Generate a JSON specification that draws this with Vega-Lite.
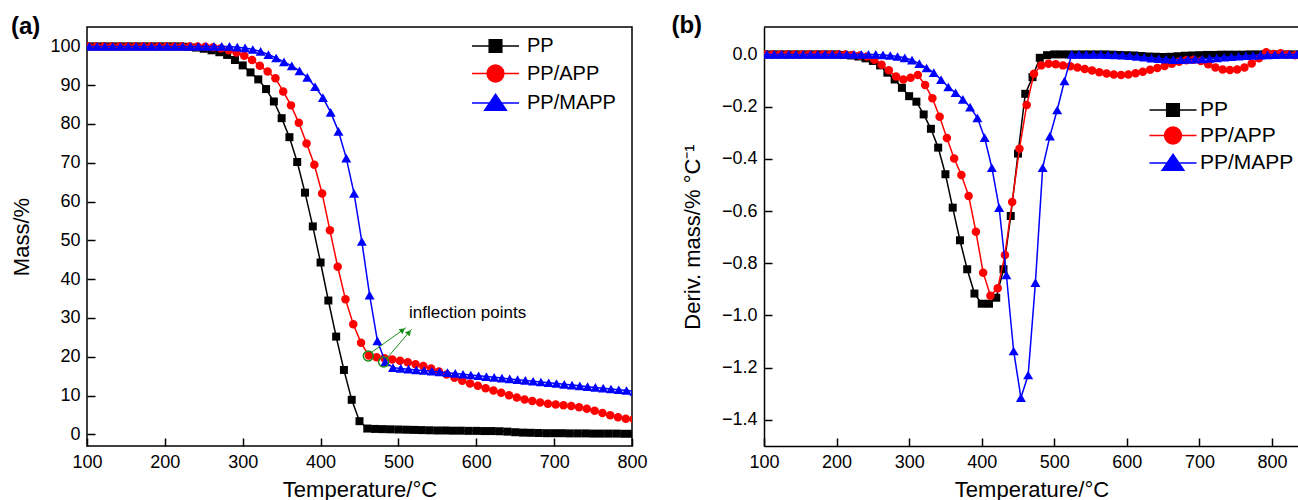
{
"$schema": "https://vega.github.io/schema/vega-lite/v6.json",
"padding": {"left": 10, "top": 14, "right": 0, "bottom": 0},
"background": "white",
"config": {
  "font": "Liberation Sans",
  "view": {"stroke": "black", "strokeWidth": 1.5},
  "axis": {"grid": false, "domain": false, "labelFont": "Liberation Sans", "labelFontSize": 18, "labelColor": "black", "titleFont": "Liberation Sans", "titleFontSize": 22, "titleFontWeight": "normal", "titleColor": "black", "tickColor": "black", "tickWidth": 1.5, "labelFlush": false, "labelOverlap": false},
  "legend": {"labelFont": "Liberation Sans", "labelColor": "black"},
  "title": {"font": "Liberation Sans", "color": "black"}
},
"datasets": {
"tga": [
{"series":"PP","T":100,"mass":100},{"series":"PP","T":110,"mass":100},{"series":"PP","T":120,"mass":100},{"series":"PP","T":130,"mass":100},{"series":"PP","T":140,"mass":100},{"series":"PP","T":150,"mass":100},{"series":"PP","T":160,"mass":100},{"series":"PP","T":170,"mass":100},{"series":"PP","T":180,"mass":100},{"series":"PP","T":190,"mass":100},{"series":"PP","T":200,"mass":100},{"series":"PP","T":210,"mass":100},{"series":"PP","T":220,"mass":100},{"series":"PP","T":230,"mass":99.9},{"series":"PP","T":240,"mass":99.7},{"series":"PP","T":250,"mass":99.4},{"series":"PP","T":260,"mass":99.0},{"series":"PP","T":270,"mass":98.5},{"series":"PP","T":280,"mass":97.8},{"series":"PP","T":290,"mass":96.5},{"series":"PP","T":300,"mass":95.1},{"series":"PP","T":310,"mass":93.3},{"series":"PP","T":320,"mass":91.5},{"series":"PP","T":330,"mass":89.0},{"series":"PP","T":340,"mass":85.8},{"series":"PP","T":350,"mass":81.5},{"series":"PP","T":360,"mass":76.6},{"series":"PP","T":370,"mass":70.2},{"series":"PP","T":380,"mass":62.3},{"series":"PP","T":390,"mass":53.6},{"series":"PP","T":400,"mass":44.3},{"series":"PP","T":410,"mass":34.5},{"series":"PP","T":420,"mass":25.2},{"series":"PP","T":430,"mass":16.6},{"series":"PP","T":440,"mass":8.9},{"series":"PP","T":450,"mass":3.4},{"series":"PP","T":460,"mass":1.5},{"series":"PP","T":470,"mass":1.4},{"series":"PP","T":480,"mass":1.35},{"series":"PP","T":490,"mass":1.3},{"series":"PP","T":500,"mass":1.25},{"series":"PP","T":510,"mass":1.2},{"series":"PP","T":520,"mass":1.15},{"series":"PP","T":530,"mass":1.1},{"series":"PP","T":540,"mass":1.05},{"series":"PP","T":550,"mass":1.0},{"series":"PP","T":560,"mass":1.0},{"series":"PP","T":570,"mass":0.95},{"series":"PP","T":580,"mass":0.95},{"series":"PP","T":590,"mass":0.9},{"series":"PP","T":600,"mass":0.9},{"series":"PP","T":610,"mass":0.85},{"series":"PP","T":620,"mass":0.85},{"series":"PP","T":630,"mass":0.8},{"series":"PP","T":640,"mass":0.7},{"series":"PP","T":650,"mass":0.55},{"series":"PP","T":660,"mass":0.45},{"series":"PP","T":670,"mass":0.4},{"series":"PP","T":680,"mass":0.35},{"series":"PP","T":690,"mass":0.3},{"series":"PP","T":700,"mass":0.3},{"series":"PP","T":710,"mass":0.3},{"series":"PP","T":720,"mass":0.25},{"series":"PP","T":730,"mass":0.25},{"series":"PP","T":740,"mass":0.25},{"series":"PP","T":750,"mass":0.2},{"series":"PP","T":760,"mass":0.2},{"series":"PP","T":770,"mass":0.2},{"series":"PP","T":780,"mass":0.2},{"series":"PP","T":790,"mass":0.15},{"series":"PP","T":800,"mass":0.15},
{"series":"PP/APP","T":102,"mass":100},{"series":"PP/APP","T":112,"mass":100},{"series":"PP/APP","T":122,"mass":100},{"series":"PP/APP","T":132,"mass":100},{"series":"PP/APP","T":142,"mass":100},{"series":"PP/APP","T":152,"mass":100},{"series":"PP/APP","T":162,"mass":100},{"series":"PP/APP","T":172,"mass":100},{"series":"PP/APP","T":182,"mass":100},{"series":"PP/APP","T":192,"mass":100},{"series":"PP/APP","T":202,"mass":100},{"series":"PP/APP","T":212,"mass":100},{"series":"PP/APP","T":222,"mass":100},{"series":"PP/APP","T":232,"mass":100},{"series":"PP/APP","T":242,"mass":100},{"series":"PP/APP","T":252,"mass":99.9},{"series":"PP/APP","T":262,"mass":99.8},{"series":"PP/APP","T":272,"mass":99.5},{"series":"PP/APP","T":282,"mass":99.0},{"series":"PP/APP","T":292,"mass":98.4},{"series":"PP/APP","T":302,"mass":97.6},{"series":"PP/APP","T":312,"mass":96.5},{"series":"PP/APP","T":322,"mass":95.0},{"series":"PP/APP","T":332,"mass":93.5},{"series":"PP/APP","T":342,"mass":91.8},{"series":"PP/APP","T":352,"mass":88.4},{"series":"PP/APP","T":362,"mass":84.8},{"series":"PP/APP","T":372,"mass":80.3},{"series":"PP/APP","T":382,"mass":75.0},{"series":"PP/APP","T":392,"mass":69.5},{"series":"PP/APP","T":402,"mass":62.1},{"series":"PP/APP","T":412,"mass":52.6},{"series":"PP/APP","T":422,"mass":43.2},{"series":"PP/APP","T":432,"mass":34.8},{"series":"PP/APP","T":442,"mass":28.4},{"series":"PP/APP","T":452,"mass":23.6},{"series":"PP/APP","T":462,"mass":20.3},{"series":"PP/APP","T":472,"mass":19.9},{"series":"PP/APP","T":482,"mass":19.6},{"series":"PP/APP","T":492,"mass":19.3},{"series":"PP/APP","T":502,"mass":19.0},{"series":"PP/APP","T":512,"mass":18.6},{"series":"PP/APP","T":522,"mass":18.1},{"series":"PP/APP","T":532,"mass":17.6},{"series":"PP/APP","T":542,"mass":17.0},{"series":"PP/APP","T":552,"mass":16.2},{"series":"PP/APP","T":562,"mass":15.4},{"series":"PP/APP","T":572,"mass":14.6},{"series":"PP/APP","T":582,"mass":13.8},{"series":"PP/APP","T":592,"mass":13.1},{"series":"PP/APP","T":602,"mass":12.5},{"series":"PP/APP","T":612,"mass":11.9},{"series":"PP/APP","T":622,"mass":11.3},{"series":"PP/APP","T":632,"mass":10.7},{"series":"PP/APP","T":642,"mass":10.1},{"series":"PP/APP","T":652,"mass":9.5},{"series":"PP/APP","T":662,"mass":9.0},{"series":"PP/APP","T":672,"mass":8.6},{"series":"PP/APP","T":682,"mass":8.2},{"series":"PP/APP","T":692,"mass":7.9},{"series":"PP/APP","T":702,"mass":7.7},{"series":"PP/APP","T":712,"mass":7.5},{"series":"PP/APP","T":722,"mass":7.3},{"series":"PP/APP","T":732,"mass":7.0},{"series":"PP/APP","T":742,"mass":6.6},{"series":"PP/APP","T":752,"mass":6.1},{"series":"PP/APP","T":762,"mass":5.5},{"series":"PP/APP","T":772,"mass":4.9},{"series":"PP/APP","T":782,"mass":4.4},{"series":"PP/APP","T":792,"mass":4.0},{"series":"PP/APP","T":802,"mass":3.9},
{"series":"PP/MAPP","T":103,"mass":100},{"series":"PP/MAPP","T":113,"mass":100},{"series":"PP/MAPP","T":123,"mass":100},{"series":"PP/MAPP","T":133,"mass":100},{"series":"PP/MAPP","T":143,"mass":100},{"series":"PP/MAPP","T":153,"mass":100},{"series":"PP/MAPP","T":163,"mass":100},{"series":"PP/MAPP","T":173,"mass":100},{"series":"PP/MAPP","T":183,"mass":100},{"series":"PP/MAPP","T":193,"mass":100},{"series":"PP/MAPP","T":203,"mass":100},{"series":"PP/MAPP","T":213,"mass":100},{"series":"PP/MAPP","T":223,"mass":100},{"series":"PP/MAPP","T":233,"mass":100},{"series":"PP/MAPP","T":243,"mass":100},{"series":"PP/MAPP","T":253,"mass":100},{"series":"PP/MAPP","T":263,"mass":100},{"series":"PP/MAPP","T":273,"mass":100},{"series":"PP/MAPP","T":283,"mass":100},{"series":"PP/MAPP","T":293,"mass":99.8},{"series":"PP/MAPP","T":303,"mass":99.6},{"series":"PP/MAPP","T":313,"mass":99.2},{"series":"PP/MAPP","T":323,"mass":98.7},{"series":"PP/MAPP","T":333,"mass":97.9},{"series":"PP/MAPP","T":343,"mass":97.0},{"series":"PP/MAPP","T":353,"mass":96.0},{"series":"PP/MAPP","T":363,"mass":95.0},{"series":"PP/MAPP","T":373,"mass":93.7},{"series":"PP/MAPP","T":383,"mass":92.0},{"series":"PP/MAPP","T":393,"mass":89.6},{"series":"PP/MAPP","T":403,"mass":86.8},{"series":"PP/MAPP","T":413,"mass":83.0},{"series":"PP/MAPP","T":423,"mass":78.1},{"series":"PP/MAPP","T":433,"mass":71.2},{"series":"PP/MAPP","T":443,"mass":62.1},{"series":"PP/MAPP","T":453,"mass":49.7},{"series":"PP/MAPP","T":463,"mass":35.9},{"series":"PP/MAPP","T":473,"mass":24.1},{"series":"PP/MAPP","T":483,"mass":18.7},{"series":"PP/MAPP","T":493,"mass":17.2},{"series":"PP/MAPP","T":503,"mass":17.0},{"series":"PP/MAPP","T":513,"mass":16.8},{"series":"PP/MAPP","T":523,"mass":16.6},{"series":"PP/MAPP","T":533,"mass":16.45},{"series":"PP/MAPP","T":543,"mass":16.3},{"series":"PP/MAPP","T":553,"mass":16.1},{"series":"PP/MAPP","T":563,"mass":15.9},{"series":"PP/MAPP","T":573,"mass":15.7},{"series":"PP/MAPP","T":583,"mass":15.5},{"series":"PP/MAPP","T":593,"mass":15.3},{"series":"PP/MAPP","T":603,"mass":15.1},{"series":"PP/MAPP","T":613,"mass":14.9},{"series":"PP/MAPP","T":623,"mass":14.7},{"series":"PP/MAPP","T":633,"mass":14.5},{"series":"PP/MAPP","T":643,"mass":14.3},{"series":"PP/MAPP","T":653,"mass":14.1},{"series":"PP/MAPP","T":663,"mass":13.9},{"series":"PP/MAPP","T":673,"mass":13.7},{"series":"PP/MAPP","T":683,"mass":13.5},{"series":"PP/MAPP","T":693,"mass":13.3},{"series":"PP/MAPP","T":703,"mass":13.1},{"series":"PP/MAPP","T":713,"mass":12.9},{"series":"PP/MAPP","T":723,"mass":12.7},{"series":"PP/MAPP","T":733,"mass":12.5},{"series":"PP/MAPP","T":743,"mass":12.3},{"series":"PP/MAPP","T":753,"mass":12.1},{"series":"PP/MAPP","T":763,"mass":11.9},{"series":"PP/MAPP","T":773,"mass":11.7},{"series":"PP/MAPP","T":783,"mass":11.5},{"series":"PP/MAPP","T":793,"mass":11.3},{"series":"PP/MAPP","T":803,"mass":11.1}
],
"dtg": [
{"series":"PP","T":100,"deriv":0},{"series":"PP","T":110,"deriv":0},{"series":"PP","T":120,"deriv":0},{"series":"PP","T":130,"deriv":0},{"series":"PP","T":140,"deriv":0},{"series":"PP","T":150,"deriv":0},{"series":"PP","T":160,"deriv":0},{"series":"PP","T":170,"deriv":0},{"series":"PP","T":180,"deriv":0},{"series":"PP","T":190,"deriv":0},{"series":"PP","T":200,"deriv":0},{"series":"PP","T":210,"deriv":-0.002},{"series":"PP","T":220,"deriv":-0.004},{"series":"PP","T":230,"deriv":-0.008},{"series":"PP","T":240,"deriv":-0.015},{"series":"PP","T":250,"deriv":-0.025},{"series":"PP","T":260,"deriv":-0.042},{"series":"PP","T":270,"deriv":-0.07},{"series":"PP","T":280,"deriv":-0.096},{"series":"PP","T":290,"deriv":-0.128},{"series":"PP","T":300,"deriv":-0.16},{"series":"PP","T":310,"deriv":-0.181},{"series":"PP","T":320,"deriv":-0.23},{"series":"PP","T":330,"deriv":-0.285},{"series":"PP","T":340,"deriv":-0.357},{"series":"PP","T":350,"deriv":-0.459},{"series":"PP","T":360,"deriv":-0.587},{"series":"PP","T":370,"deriv":-0.712},{"series":"PP","T":380,"deriv":-0.823},{"series":"PP","T":390,"deriv":-0.916},{"series":"PP","T":400,"deriv":-0.955},{"series":"PP","T":410,"deriv":-0.955},{"series":"PP","T":420,"deriv":-0.932},{"series":"PP","T":430,"deriv":-0.823},{"series":"PP","T":440,"deriv":-0.619},{"series":"PP","T":450,"deriv":-0.38},{"series":"PP","T":460,"deriv":-0.151},{"series":"PP","T":470,"deriv":-0.087},{"series":"PP","T":480,"deriv":-0.013},{"series":"PP","T":490,"deriv":-0.003},{"series":"PP","T":500,"deriv":0},{"series":"PP","T":510,"deriv":0},{"series":"PP","T":520,"deriv":0},{"series":"PP","T":530,"deriv":0},{"series":"PP","T":540,"deriv":0},{"series":"PP","T":550,"deriv":0},{"series":"PP","T":560,"deriv":0},{"series":"PP","T":570,"deriv":0},{"series":"PP","T":580,"deriv":-0.001},{"series":"PP","T":590,"deriv":-0.002},{"series":"PP","T":600,"deriv":-0.003},{"series":"PP","T":610,"deriv":-0.004},{"series":"PP","T":620,"deriv":-0.006},{"series":"PP","T":630,"deriv":-0.008},{"series":"PP","T":640,"deriv":-0.009},{"series":"PP","T":650,"deriv":-0.01},{"series":"PP","T":660,"deriv":-0.009},{"series":"PP","T":670,"deriv":-0.007},{"series":"PP","T":680,"deriv":-0.005},{"series":"PP","T":690,"deriv":-0.004},{"series":"PP","T":700,"deriv":-0.003},{"series":"PP","T":710,"deriv":-0.002},{"series":"PP","T":720,"deriv":-0.002},{"series":"PP","T":730,"deriv":-0.001},{"series":"PP","T":740,"deriv":-0.001},{"series":"PP","T":750,"deriv":-0.001},{"series":"PP","T":760,"deriv":-0.001},{"series":"PP","T":770,"deriv":0},{"series":"PP","T":780,"deriv":0},{"series":"PP","T":790,"deriv":0},{"series":"PP","T":800,"deriv":0},{"series":"PP","T":810,"deriv":0},{"series":"PP","T":820,"deriv":0},{"series":"PP","T":830,"deriv":0},{"series":"PP","T":840,"deriv":0},
{"series":"PP/APP","T":102,"deriv":0},{"series":"PP/APP","T":112,"deriv":0},{"series":"PP/APP","T":122,"deriv":0},{"series":"PP/APP","T":132,"deriv":0},{"series":"PP/APP","T":142,"deriv":0},{"series":"PP/APP","T":152,"deriv":0},{"series":"PP/APP","T":162,"deriv":0},{"series":"PP/APP","T":172,"deriv":0},{"series":"PP/APP","T":182,"deriv":0},{"series":"PP/APP","T":192,"deriv":0},{"series":"PP/APP","T":202,"deriv":0},{"series":"PP/APP","T":212,"deriv":0},{"series":"PP/APP","T":222,"deriv":-0.002},{"series":"PP/APP","T":232,"deriv":-0.004},{"series":"PP/APP","T":242,"deriv":-0.008},{"series":"PP/APP","T":252,"deriv":-0.02},{"series":"PP/APP","T":262,"deriv":-0.04},{"series":"PP/APP","T":272,"deriv":-0.061},{"series":"PP/APP","T":282,"deriv":-0.085},{"series":"PP/APP","T":292,"deriv":-0.096},{"series":"PP/APP","T":302,"deriv":-0.089},{"series":"PP/APP","T":312,"deriv":-0.079},{"series":"PP/APP","T":322,"deriv":-0.117},{"series":"PP/APP","T":332,"deriv":-0.168},{"series":"PP/APP","T":342,"deriv":-0.239},{"series":"PP/APP","T":352,"deriv":-0.32},{"series":"PP/APP","T":362,"deriv":-0.399},{"series":"PP/APP","T":372,"deriv":-0.462},{"series":"PP/APP","T":382,"deriv":-0.542},{"series":"PP/APP","T":392,"deriv":-0.679},{"series":"PP/APP","T":402,"deriv":-0.836},{"series":"PP/APP","T":412,"deriv":-0.924},{"series":"PP/APP","T":422,"deriv":-0.896},{"series":"PP/APP","T":432,"deriv":-0.768},{"series":"PP/APP","T":442,"deriv":-0.565},{"series":"PP/APP","T":452,"deriv":-0.361},{"series":"PP/APP","T":462,"deriv":-0.194},{"series":"PP/APP","T":472,"deriv":-0.074},{"series":"PP/APP","T":482,"deriv":-0.042},{"series":"PP/APP","T":492,"deriv":-0.036},{"series":"PP/APP","T":502,"deriv":-0.038},{"series":"PP/APP","T":512,"deriv":-0.042},{"series":"PP/APP","T":522,"deriv":-0.045},{"series":"PP/APP","T":532,"deriv":-0.05},{"series":"PP/APP","T":542,"deriv":-0.056},{"series":"PP/APP","T":552,"deriv":-0.062},{"series":"PP/APP","T":562,"deriv":-0.068},{"series":"PP/APP","T":572,"deriv":-0.073},{"series":"PP/APP","T":582,"deriv":-0.077},{"series":"PP/APP","T":592,"deriv":-0.079},{"series":"PP/APP","T":602,"deriv":-0.077},{"series":"PP/APP","T":612,"deriv":-0.072},{"series":"PP/APP","T":622,"deriv":-0.066},{"series":"PP/APP","T":632,"deriv":-0.059},{"series":"PP/APP","T":642,"deriv":-0.052},{"series":"PP/APP","T":652,"deriv":-0.044},{"series":"PP/APP","T":662,"deriv":-0.036},{"series":"PP/APP","T":672,"deriv":-0.028},{"series":"PP/APP","T":682,"deriv":-0.022},{"series":"PP/APP","T":692,"deriv":-0.02},{"series":"PP/APP","T":702,"deriv":-0.025},{"series":"PP/APP","T":712,"deriv":-0.038},{"series":"PP/APP","T":722,"deriv":-0.05},{"series":"PP/APP","T":732,"deriv":-0.058},{"series":"PP/APP","T":742,"deriv":-0.06},{"series":"PP/APP","T":752,"deriv":-0.058},{"series":"PP/APP","T":762,"deriv":-0.05},{"series":"PP/APP","T":772,"deriv":-0.035},{"series":"PP/APP","T":782,"deriv":-0.015},{"series":"PP/APP","T":792,"deriv":0.008},{"series":"PP/APP","T":802,"deriv":0.002},{"series":"PP/APP","T":812,"deriv":0.004},{"series":"PP/APP","T":822,"deriv":0},{"series":"PP/APP","T":832,"deriv":-0.003},{"series":"PP/APP","T":842,"deriv":0},
{"series":"PP/MAPP","T":104,"deriv":0},{"series":"PP/MAPP","T":114,"deriv":0},{"series":"PP/MAPP","T":124,"deriv":0},{"series":"PP/MAPP","T":134,"deriv":0},{"series":"PP/MAPP","T":144,"deriv":0},{"series":"PP/MAPP","T":154,"deriv":0},{"series":"PP/MAPP","T":164,"deriv":0},{"series":"PP/MAPP","T":174,"deriv":0},{"series":"PP/MAPP","T":184,"deriv":0},{"series":"PP/MAPP","T":194,"deriv":0},{"series":"PP/MAPP","T":204,"deriv":0},{"series":"PP/MAPP","T":214,"deriv":0},{"series":"PP/MAPP","T":224,"deriv":0},{"series":"PP/MAPP","T":234,"deriv":0},{"series":"PP/MAPP","T":244,"deriv":0},{"series":"PP/MAPP","T":254,"deriv":0},{"series":"PP/MAPP","T":264,"deriv":-0.002},{"series":"PP/MAPP","T":274,"deriv":-0.004},{"series":"PP/MAPP","T":284,"deriv":-0.008},{"series":"PP/MAPP","T":294,"deriv":-0.013},{"series":"PP/MAPP","T":304,"deriv":-0.022},{"series":"PP/MAPP","T":314,"deriv":-0.035},{"series":"PP/MAPP","T":324,"deriv":-0.052},{"series":"PP/MAPP","T":334,"deriv":-0.07},{"series":"PP/MAPP","T":344,"deriv":-0.097},{"series":"PP/MAPP","T":354,"deriv":-0.125},{"series":"PP/MAPP","T":364,"deriv":-0.147},{"series":"PP/MAPP","T":374,"deriv":-0.172},{"series":"PP/MAPP","T":384,"deriv":-0.202},{"series":"PP/MAPP","T":394,"deriv":-0.243},{"series":"PP/MAPP","T":404,"deriv":-0.319},{"series":"PP/MAPP","T":414,"deriv":-0.434},{"series":"PP/MAPP","T":424,"deriv":-0.587},{"series":"PP/MAPP","T":434,"deriv":-0.845},{"series":"PP/MAPP","T":444,"deriv":-1.136},{"series":"PP/MAPP","T":454,"deriv":-1.315},{"series":"PP/MAPP","T":464,"deriv":-1.228},{"series":"PP/MAPP","T":474,"deriv":-0.874},{"series":"PP/MAPP","T":484,"deriv":-0.434},{"series":"PP/MAPP","T":494,"deriv":-0.313},{"series":"PP/MAPP","T":504,"deriv":-0.213},{"series":"PP/MAPP","T":514,"deriv":-0.102},{"series":"PP/MAPP","T":524,"deriv":0},{"series":"PP/MAPP","T":534,"deriv":0},{"series":"PP/MAPP","T":544,"deriv":0},{"series":"PP/MAPP","T":554,"deriv":0},{"series":"PP/MAPP","T":564,"deriv":0},{"series":"PP/MAPP","T":574,"deriv":-0.001},{"series":"PP/MAPP","T":584,"deriv":-0.002},{"series":"PP/MAPP","T":594,"deriv":-0.003},{"series":"PP/MAPP","T":604,"deriv":-0.005},{"series":"PP/MAPP","T":614,"deriv":-0.008},{"series":"PP/MAPP","T":624,"deriv":-0.011},{"series":"PP/MAPP","T":634,"deriv":-0.014},{"series":"PP/MAPP","T":644,"deriv":-0.016},{"series":"PP/MAPP","T":654,"deriv":-0.018},{"series":"PP/MAPP","T":664,"deriv":-0.02},{"series":"PP/MAPP","T":674,"deriv":-0.02},{"series":"PP/MAPP","T":684,"deriv":-0.019},{"series":"PP/MAPP","T":694,"deriv":-0.018},{"series":"PP/MAPP","T":704,"deriv":-0.017},{"series":"PP/MAPP","T":714,"deriv":-0.015},{"series":"PP/MAPP","T":724,"deriv":-0.013},{"series":"PP/MAPP","T":734,"deriv":-0.011},{"series":"PP/MAPP","T":744,"deriv":-0.009},{"series":"PP/MAPP","T":754,"deriv":-0.007},{"series":"PP/MAPP","T":764,"deriv":-0.005},{"series":"PP/MAPP","T":774,"deriv":-0.004},{"series":"PP/MAPP","T":784,"deriv":-0.003},{"series":"PP/MAPP","T":794,"deriv":-0.002},{"series":"PP/MAPP","T":804,"deriv":-0.001},{"series":"PP/MAPP","T":814,"deriv":0},{"series":"PP/MAPP","T":824,"deriv":0},{"series":"PP/MAPP","T":834,"deriv":0},{"series":"PP/MAPP","T":844,"deriv":0}
]
},
"spacing": 23,
"resolve": {"scale": {"x": "independent", "y": "independent", "color": "independent", "shape": "independent", "stroke": "independent"}, "legend": {"color": "independent", "shape": "independent", "stroke": "independent"}},
"hconcat": [
{
  "width": 545, "height": 419,
  "title": {"text": "(a)", "anchor": "start", "frame": "bounds", "fontSize": 24, "fontWeight": "bold", "offset": -12},
  "layer": [
    {"data": {"name": "tga"}, "transform": [{"filter": "datum.series === 'PP'"}],
     "mark": {"type": "line", "color": "#000000", "strokeWidth": 1.5, "clip": true},
     "encoding": {
       "x": {"field": "T", "type": "quantitative", "scale": {"domain": [100, 800], "nice": false, "zero": false},
             "axis": {"title": "Temperature/°C", "values": [100,150,200,250,300,350,400,450,500,550,600,650,700,750,800], "labelExpr": "datum.value % 100 === 0 ? datum.label : ''", "tickSize": {"condition": {"test": "datum.value % 100 === 0", "value": -8}, "value": -5}, "labelPadding": 15, "titlePadding": 8}},
       "y": {"field": "mass", "type": "quantitative", "scale": {"domain": [-3, 105], "nice": false, "zero": false},
             "axis": {"title": "Mass/%", "values": [0,5,10,15,20,25,30,35,40,45,50,55,60,65,70,75,80,85,90,95,100], "labelExpr": "datum.value % 10 === 0 ? datum.label : ''", "tickSize": {"condition": {"test": "datum.value % 10 === 0", "value": -8}, "value": -5}, "labelPadding": 15, "titlePadding": 16}}
     }},
    {"data": {"name": "tga"}, "transform": [{"filter": "datum.series === 'PP'"}],
     "mark": {"type": "point", "shape": "square", "filled": true, "color": "#000000", "size": 64, "opacity": 1, "clip": true},
     "encoding": {"x": {"field": "T", "type": "quantitative"}, "y": {"field": "mass", "type": "quantitative"}}},
    {"data": {"name": "tga"}, "transform": [{"filter": "datum.series === 'PP/APP'"}],
     "mark": {"type": "line", "color": "#ff0000", "strokeWidth": 1.5, "clip": true},
     "encoding": {"x": {"field": "T", "type": "quantitative"}, "y": {"field": "mass", "type": "quantitative"}}},
    {"data": {"name": "tga"}, "transform": [{"filter": "datum.series === 'PP/APP'"}],
     "mark": {"type": "point", "shape": "circle", "filled": true, "color": "#ff0000", "size": 72, "opacity": 1, "clip": true},
     "encoding": {"x": {"field": "T", "type": "quantitative"}, "y": {"field": "mass", "type": "quantitative"}}},
    {"data": {"name": "tga"}, "transform": [{"filter": "datum.series === 'PP/MAPP'"}],
     "mark": {"type": "line", "color": "#0000ff", "strokeWidth": 1.5, "clip": true},
     "encoding": {"x": {"field": "T", "type": "quantitative"}, "y": {"field": "mass", "type": "quantitative"}}},
    {"data": {"name": "tga"}, "transform": [{"filter": "datum.series === 'PP/MAPP'"}],
     "mark": {"type": "point", "shape": "triangle-up", "filled": true, "color": "#0000ff", "size": 100, "opacity": 1, "clip": true},
     "encoding": {"x": {"field": "T", "type": "quantitative"}, "y": {"field": "mass", "type": "quantitative"}}},
    {"data": {"values": []},
     "mark": {"type": "point", "filled": true, "opacity": 1},
     "encoding": {
       "x": {"field": "T", "type": "quantitative"},
       "y": {"field": "mass", "type": "quantitative"},
       "color": {"field": "series", "type": "nominal", "scale": {"domain": ["PP", "PP/APP", "PP/MAPP"], "range": ["#000000", "#ff0000", "#0000ff"]},
         "legend": {"orient": "none", "legendX": 398.5, "legendY": 9, "title": null, "labelFontSize": 20, "symbolSize": 196, "symbolStrokeWidth": 1.5, "symbolOpacity": 1, "rowPadding": 5.5, "labelOffset": 21.5, "padding": 0}},
       "stroke": {"field": "series", "type": "nominal", "scale": {"domain": ["PP", "PP/APP", "PP/MAPP"], "range": ["#000000", "#ff0000", "#0000ff"]},
         "legend": {"orient": "none", "legendX": 398.5, "legendY": 9, "title": null, "labelFontSize": 20, "symbolSize": 196, "symbolStrokeWidth": 1.5, "symbolOpacity": 1, "rowPadding": 5.5, "labelOffset": 21.5, "padding": 0}},
       "shape": {"field": "series", "type": "nominal", "scale": {"domain": ["PP", "PP/APP", "PP/MAPP"], "range": ["M-3.36,0H3.36M-0.9,-0.9H0.9V0.9H-0.9Z", "M-3.36,0H3.36M1.2,0A1.2,1.2,0,1,1,-1.2,0A1.2,1.2,0,1,1,1.2,0Z", "M-3.36,0H3.36M0,-1.25L1.55,1.05L-1.55,1.05Z"]},
         "legend": {"orient": "none", "legendX": 398.5, "legendY": 9, "title": null, "labelFontSize": 20, "symbolSize": 196, "symbolStrokeWidth": 1.5, "symbolOpacity": 1, "rowPadding": 5.5, "labelOffset": 21.5, "padding": 0}}
     }},
    {"data": {"values": [{"T": 461.3, "mass": 20.2}, {"T": 481, "mass": 18.65}]},
     "mark": {"type": "point", "shape": "circle", "filled": false, "stroke": "#1a8c1a", "strokeWidth": 1.5, "size": 100, "opacity": 1},
     "encoding": {"x": {"field": "T", "type": "quantitative"}, "y": {"field": "mass", "type": "quantitative"}}},
    {"data": {"values": [{"T": 464.8, "mass": 21.05, "T2": 509.7, "mass2": 27.5}, {"T": 484, "mass": 19.35, "T2": 517, "mass2": 27.1}]},
     "mark": {"type": "rule", "color": "#1a8c1a", "strokeWidth": 1},
     "encoding": {"x": {"field": "T", "type": "quantitative"}, "y": {"field": "mass", "type": "quantitative"}, "x2": {"field": "T2"}, "y2": {"field": "mass2"}}},
    {"data": {"values": [{"T": 505.5, "mass": 26.9}]},
     "mark": {"type": "point", "shape": "triangle-right", "filled": true, "color": "#1a8c1a", "size": 40, "angle": 324, "opacity": 1},
     "encoding": {"x": {"field": "T", "type": "quantitative"}, "y": {"field": "mass", "type": "quantitative"}}},
    {"data": {"values": [{"T": 513.7, "mass": 26.3}]},
     "mark": {"type": "point", "shape": "triangle-right", "filled": true, "color": "#1a8c1a", "size": 40, "angle": 311, "opacity": 1},
     "encoding": {"x": {"field": "T", "type": "quantitative"}, "y": {"field": "mass", "type": "quantitative"}}},
    {"data": {"values": [{"T": 513.6, "mass": 30.0, "label": "inflection points"}]},
     "mark": {"type": "text", "align": "left", "baseline": "alphabetic", "fontSize": 17, "font": "Liberation Sans", "color": "black"},
     "encoding": {"x": {"field": "T", "type": "quantitative"}, "y": {"field": "mass", "type": "quantitative"}, "text": {"field": "label"}}}
  ]
},
{
  "width": 535, "height": 419,
  "view": {"stroke": null},
  "title": {"text": "(b)", "anchor": "start", "frame": "bounds", "fontSize": 24, "fontWeight": "bold", "offset": -12, "dx": -10},
  "layer": [
    {"data": {"name": "dtg"}, "transform": [{"filter": "datum.series === 'PP'"}],
     "mark": {"type": "line", "color": "#000000", "strokeWidth": 1.5, "clip": true},
     "encoding": {
       "x": {"field": "T", "type": "quantitative", "scale": {"domain": [100, 837.2], "nice": false, "zero": false},
             "axis": {"title": "Temperature/°C", "domain": true, "domainColor": "black", "domainWidth": 1.5, "values": [100,150,200,250,300,350,400,450,500,550,600,650,700,750,800], "labelExpr": "datum.value % 100 === 0 ? datum.label : ''", "tickSize": {"condition": {"test": "datum.value % 100 === 0", "value": -8}, "value": -5}, "labelPadding": 15, "titlePadding": 8}},
       "y": {"field": "deriv", "type": "quantitative", "scale": {"domain": [-1.5, 0.105], "nice": false, "zero": false},
             "axis": {"title": "Deriv. mass/% °C⁻¹", "domain": true, "domainColor": "black", "domainWidth": 1.5, "format": ".1f", "values": [-1.4,-1.3,-1.2,-1.1,-1.0,-0.9,-0.8,-0.7,-0.6,-0.5,-0.4,-0.3,-0.2,-0.1,0], "labelExpr": "abs(round(datum.value*10)) % 2 === 0 ? datum.label : ''", "tickSize": {"condition": {"test": "abs(round(datum.value*10)) % 2 === 0", "value": -8}, "value": -5}, "labelPadding": 15, "titlePadding": 17}}
     }},
    {"data": {"name": "dtg"}, "transform": [{"filter": "datum.series === 'PP'"}],
     "mark": {"type": "point", "shape": "square", "filled": true, "color": "#000000", "size": 64, "opacity": 1, "clip": true},
     "encoding": {"x": {"field": "T", "type": "quantitative"}, "y": {"field": "deriv", "type": "quantitative"}}},
    {"data": {"name": "dtg"}, "transform": [{"filter": "datum.series === 'PP/APP'"}],
     "mark": {"type": "line", "color": "#ff0000", "strokeWidth": 1.5, "clip": true},
     "encoding": {"x": {"field": "T", "type": "quantitative"}, "y": {"field": "deriv", "type": "quantitative"}}},
    {"data": {"name": "dtg"}, "transform": [{"filter": "datum.series === 'PP/APP'"}],
     "mark": {"type": "point", "shape": "circle", "filled": true, "color": "#ff0000", "size": 72, "opacity": 1, "clip": true},
     "encoding": {"x": {"field": "T", "type": "quantitative"}, "y": {"field": "deriv", "type": "quantitative"}}},
    {"data": {"name": "dtg"}, "transform": [{"filter": "datum.series === 'PP/MAPP'"}],
     "mark": {"type": "line", "color": "#0000ff", "strokeWidth": 1.5, "clip": true},
     "encoding": {"x": {"field": "T", "type": "quantitative"}, "y": {"field": "deriv", "type": "quantitative"}}},
    {"data": {"name": "dtg"}, "transform": [{"filter": "datum.series === 'PP/MAPP'"}],
     "mark": {"type": "point", "shape": "triangle-up", "filled": true, "color": "#0000ff", "size": 100, "opacity": 1, "clip": true},
     "encoding": {"x": {"field": "T", "type": "quantitative"}, "y": {"field": "deriv", "type": "quantitative"}}},
    {"data": {"values": []},
     "mark": {"type": "point", "filled": true, "opacity": 1},
     "encoding": {
       "x": {"field": "T", "type": "quantitative"},
       "y": {"field": "deriv", "type": "quantitative"},
       "color": {"field": "series", "type": "nominal", "scale": {"domain": ["PP", "PP/APP", "PP/MAPP"], "range": ["#000000", "#ff0000", "#0000ff"]},
         "legend": {"orient": "none", "legendX": 398.5, "legendY": 72.5, "title": null, "labelFontSize": 21, "symbolSize": 196, "symbolStrokeWidth": 1.5, "symbolOpacity": 1, "rowPadding": 3.5, "labelOffset": 16.5, "padding": 0}},
       "stroke": {"field": "series", "type": "nominal", "scale": {"domain": ["PP", "PP/APP", "PP/MAPP"], "range": ["#000000", "#ff0000", "#0000ff"]},
         "legend": {"orient": "none", "legendX": 398.5, "legendY": 72.5, "title": null, "labelFontSize": 21, "symbolSize": 196, "symbolStrokeWidth": 1.5, "symbolOpacity": 1, "rowPadding": 3.5, "labelOffset": 16.5, "padding": 0}},
       "shape": {"field": "series", "type": "nominal", "scale": {"domain": ["PP", "PP/APP", "PP/MAPP"], "range": ["M-3.36,0H3.36M-0.9,-0.9H0.9V0.9H-0.9Z", "M-3.36,0H3.36M1.2,0A1.2,1.2,0,1,1,-1.2,0A1.2,1.2,0,1,1,1.2,0Z", "M-3.36,0H3.36M0,-1.25L1.55,1.05L-1.55,1.05Z"]},
         "legend": {"orient": "none", "legendX": 398.5, "legendY": 72.5, "title": null, "labelFontSize": 21, "symbolSize": 196, "symbolStrokeWidth": 1.5, "symbolOpacity": 1, "rowPadding": 3.5, "labelOffset": 16.5, "padding": 0}}
     }},
    {"data": {"values": [{}]},
     "mark": {"type": "rule", "color": "black", "strokeWidth": 1.5},
     "encoding": {"y": {"datum": 0.105}}}
  ]
}
]
}
